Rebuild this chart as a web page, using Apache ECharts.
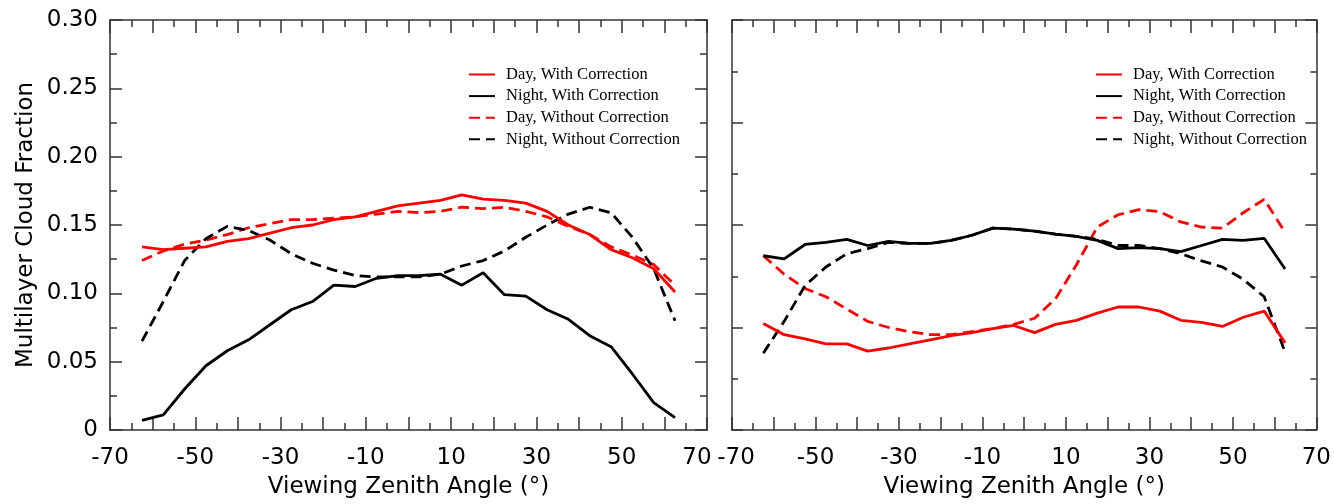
<!DOCTYPE html>
<html><head><meta charset="utf-8">
<script src="https://cdn.jsdelivr.net/npm/echarts@6/dist/echarts.min.js"></script>
<style>html,body{margin:0;padding:0;background:#fff}#c{width:1334px;height:504px}</style>
</head><body><div id="c"></div>
<script>
// Viewing zenith angle bin centres (degrees)
const angles = [-62.5,-57.5,-52.5,-47.5,-42.5,-37.5,-32.5,-27.5,-22.5,-17.5,-12.5,-7.5,-2.5,
                2.5,7.5,12.5,17.5,22.5,27.5,32.5,37.5,42.5,47.5,52.5,57.5,62.5];
const seriesNames = ['Day, With Correction','Night, With Correction','Day, Without Correction','Night, Without Correction'];
const xTickLabels = ['-70','-50','-30','-10','10','30','50','70'];

// Left panel
const leftDayCorr    = [0.134,0.132,0.133,0.134,0.138,0.140,0.144,0.148,0.150,0.154,0.156,0.160,0.164,0.166,0.168,0.172,0.169,0.168,0.166,0.160,0.150,0.143,0.132,0.126,0.118,0.101];
const leftNightCorr  = [0.007,0.011,0.030,0.047,0.058,0.066,0.077,0.088,0.094,0.106,0.105,0.111,0.113,0.113,0.114,0.106,0.115,0.099,0.098,0.088,0.081,0.069,0.061,0.041,0.020,0.009];
const leftDayNoCorr  = [0.124,0.131,0.136,0.139,0.143,0.148,0.151,0.154,0.154,0.155,0.156,0.158,0.160,0.159,0.160,0.163,0.162,0.163,0.160,0.156,0.149,0.143,0.134,0.128,0.121,0.106];
const leftNightNoCorr= [0.065,0.094,0.124,0.140,0.149,0.146,0.139,0.129,0.122,0.117,0.113,0.112,0.112,0.112,0.114,0.120,0.124,0.131,0.141,0.150,0.158,0.163,0.159,0.141,0.118,0.080];

// Right panel (no value labels on its y axis)
const rightDayCorr    = [0.104,0.093,0.089,0.084,0.084,0.077,0.080,0.084,0.088,0.092,0.095,0.099,0.102,0.095,0.103,0.107,0.114,0.120,0.120,0.116,0.107,0.105,0.101,0.110,0.116,0.085];
const rightNightCorr  = [0.170,0.167,0.181,0.183,0.186,0.180,0.184,0.182,0.182,0.185,0.190,0.197,0.196,0.194,0.191,0.189,0.185,0.177,0.178,0.177,0.174,0.180,0.186,0.185,0.187,0.157];
const rightDayNoCorr  = [0.170,0.152,0.138,0.130,0.118,0.106,0.100,0.096,0.093,0.093,0.096,0.099,0.103,0.109,0.128,0.161,0.198,0.210,0.215,0.213,0.203,0.198,0.197,0.212,0.225,0.193];
const rightNightNoCorr= [0.075,0.106,0.141,0.159,0.172,0.177,0.183,0.182,0.182,0.185,0.190,0.197,0.196,0.194,0.191,0.189,0.186,0.180,0.180,0.177,0.172,0.165,0.159,0.147,0.130,0.076];

const pairs = arr => angles.map((a,i)=>[a,arr[i]]);
const LF = 'DejaVu Sans, Liberation Sans, Arial, sans-serif';
const axisColor = '#333';

function xAxes(gi){
  const base = {
    type:'value', gridIndex:gi, min:-70, max:70, interval:10,
    axisLine:{show:true, onZero:false, lineStyle:{color:axisColor, width:1.5}},
    axisTick:{show:true, inside:true, length:13, lineStyle:{color:axisColor, width:1.5}},
    minorTick:{show:true, splitNumber:2, length:7, lineStyle:{color:axisColor, width:1.5}},
    splitLine:{show:false}, minorSplitLine:{show:false}
  };
  return [
    Object.assign({}, base, {position:'bottom',
      name:'Viewing Zenith Angle (°)', nameLocation:'middle', nameGap:46,
      nameTextStyle:{fontFamily:LF, fontSize:23, color:'#000'},
      axisLabel:{show:true, margin:17, fontFamily:LF, fontSize:23, color:'#000', showMinLabel:true, showMaxLabel:true,
        rich:{r:{fontFamily:LF, fontSize:23, color:'#000', padding:[0,20,0,0]},
              l:{fontFamily:LF, fontSize:23, color:'#000', padding:[0,0,0,8]}},
        formatter:v=>{
          const s=String(v);
          if (xTickLabels.indexOf(s)<0) return '';
          if (gi===0 && v===70) return '{r|'+s+'}';
          if (gi===1 && v===-70) return '{l|'+s+'}';
          return s;
        }}}),
    Object.assign({}, base, {position:'top', axisLabel:{show:false}})
  ];
}
function yAxes(gi, max, interval, showLabels, majorLen, minorLen){
  const base = {
    type:'value', gridIndex:gi, min:0, max:max, interval:interval,
    axisLine:{show:true, onZero:false, lineStyle:{color:axisColor, width:1.5}},
    axisTick:{show:true, inside:true, length:majorLen, lineStyle:{color:axisColor, width:1.5}},
    minorTick:{show:true, splitNumber:2, length:minorLen, lineStyle:{color:axisColor, width:1.5}},
    splitLine:{show:false}, minorSplitLine:{show:false}
  };
  const left = Object.assign({}, base, {position:'left',
    axisLabel:{show:showLabels, margin:12, fontFamily:LF, fontSize:23, color:'#000',
      formatter:v=> v===0 ? '0' : v.toFixed(2)}});
  if (showLabels){
    Object.assign(left, {name:'Multilayer Cloud Fraction', nameLocation:'middle', nameGap:72,
      nameTextStyle:{fontFamily:LF, fontSize:23, color:'#000'}});
  }
  return [left, Object.assign({}, base, {position:'right', axisLabel:{show:false}})];
}

const styles = [
  {color:'#ff0000', type:'solid'},
  {color:'#000000', type:'solid'},
  {color:'#ff0000', type:[11,6]},
  {color:'#000000', type:[11,6]}
];
function mk(name, idx, gi, data){
  const st = styles[idx];
  return {name:name, type:'line', xAxisIndex:gi*2, yAxisIndex:gi*2, data:pairs(data),
    symbol:'none', showSymbol:false, silent:true, animation:false,
    lineStyle:{color:st.color, width:2.8, type:st.type}, itemStyle:{color:st.color}, z: idx<2?3:2};
}

const legendBase = {orient:'vertical', top:61, itemWidth:26, itemHeight:14, itemGap:4.6,
  itemStyle:{opacity:0},
  textStyle:{fontFamily:'Liberation Serif, Times New Roman, serif', fontSize:16.5, lineHeight:14, color:'#000', padding:[0,0,0,6]},
  data:seriesNames, selectedMode:false};

const option = {
  backgroundColor:'#fff',
  animation:false,
  grid:[
    {left:110, top:20, width:597, height:413},
    {left:732, top:20, width:594, height:412}
  ],
  xAxis: xAxes(0).concat(xAxes(1)),
  yAxis: yAxes(0, 0.30, 0.05, true, 12, 7).concat(yAxes(1, 0.40, 0.1, false, 11, 6)),
  legend:[
    Object.assign({}, legendBase, {left:463}),
    Object.assign({}, legendBase, {left:1090})
  ],
  series:[
    mk(seriesNames[0],0,0,leftDayCorr),
    mk(seriesNames[1],1,0,leftNightCorr),
    mk(seriesNames[2],2,0,leftDayNoCorr),
    mk(seriesNames[3],3,0,leftNightNoCorr),
    mk(seriesNames[0],0,1,rightDayCorr),
    mk(seriesNames[1],1,1,rightNightCorr),
    mk(seriesNames[2],2,1,rightDayNoCorr),
    mk(seriesNames[3],3,1,rightNightNoCorr)
  ]
};
const chart = echarts.init(document.getElementById('c'), null, {renderer:'canvas'});
chart.setOption(option);
</script></body></html>
